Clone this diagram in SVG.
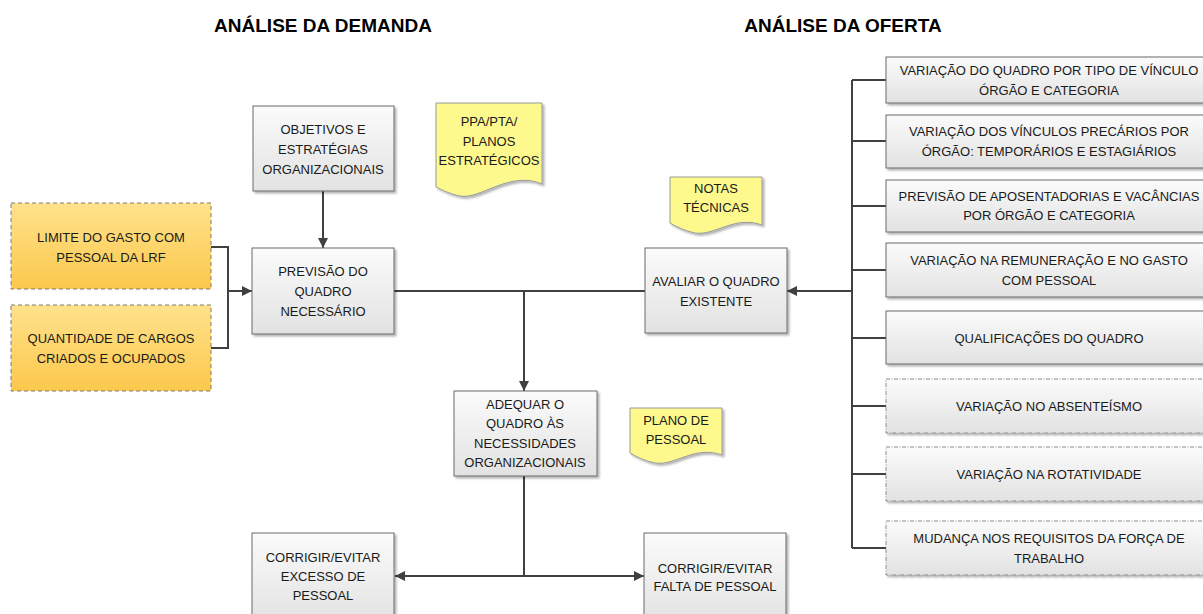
<svg xmlns="http://www.w3.org/2000/svg" width="1203" height="614" viewBox="0 0 1203 614">
<defs>
<linearGradient id="gGray" x1="0" y1="0" x2="0" y2="1"><stop offset="0" stop-color="#fbfbfb"/><stop offset="1" stop-color="#e2e2e2"/></linearGradient>
<linearGradient id="gOrange" x1="0" y1="0" x2="0" y2="1"><stop offset="0" stop-color="#ffe28c"/><stop offset="1" stop-color="#fbc84c"/></linearGradient>
<filter id="sh" x="-10%" y="-10%" width="130%" height="130%"><feDropShadow dx="2" dy="2" stdDeviation="1" flood-color="#000" flood-opacity="0.3"/></filter>
<marker id="arr" viewBox="0 0 10 10" refX="10" refY="5" markerWidth="10" markerHeight="10" markerUnits="userSpaceOnUse" orient="auto"><path d="M0,0 L10,5 L0,10 z" fill="#404040"/></marker>
</defs>
<style>
.box{fill:url(#gGray);stroke:#6b6b6b;stroke-width:1;filter:url(#sh)}
.dbox{fill:url(#gGray);stroke:#8a8a8a;stroke-width:1;stroke-dasharray:4 1.5 1 1.5;filter:url(#sh)}
.ybox{fill:url(#gOrange);stroke:#7a7a7a;stroke-width:1;stroke-dasharray:4 3}
.doc{fill:#fdf98d;stroke:#9a9a9a;stroke-width:1;filter:url(#sh)}
.t{font-family:"Liberation Sans",Arial,sans-serif;font-size:13px;fill:#1a1a1a;text-anchor:middle;dominant-baseline:central}
.h{font-family:"Liberation Sans",Arial,sans-serif;font-size:19px;font-weight:bold;fill:#000;text-anchor:middle}
.c{fill:none;stroke:#404040;stroke-width:2}
</style>
<rect width="1203" height="614" fill="#fff"/>
<text class="h" x="323" y="32">ANÁLISE DA DEMANDA</text>
<text class="h" x="843" y="32">ANÁLISE DA OFERTA</text>

<g id="connectors">
<path class="c" d="M211,247 H228 V348 H211"/>
<path class="c" d="M228,291 H252" marker-end="url(#arr)"/>
<path class="c" d="M323,191 V248" marker-end="url(#arr)"/>
<path class="c" d="M394,291 H645"/>
<path class="c" d="M524,291 V391" marker-end="url(#arr)"/>
<path class="c" d="M852,80 V548"/>
<path class="c" d="M852,80 H886 M852,141 H886 M852,206 H886 M852,270 H886 M852,338 H886 M852,406 H886 M852,474 H886 M852,548 H886"/>
<path class="c" d="M852,291 H787" marker-end="url(#arr)"/>
<path class="c" d="M524,476 V576"/>
<path class="c" d="M524,576 H395" marker-end="url(#arr)"/>
<path class="c" d="M524,576 H644" marker-end="url(#arr)"/>
</g>

<g id="n-limite"><rect class="ybox" x="11" y="203" width="200" height="86"/><text class="t" x="111" y="237">LIMITE DO GASTO COM</text><text class="t" x="111" y="257">PESSOAL DA LRF</text></g>
<g id="n-quantidade"><rect class="ybox" x="11" y="305" width="200" height="86"/><text class="t" x="111" y="338">QUANTIDADE DE CARGOS</text><text class="t" x="111" y="358">CRIADOS E OCUPADOS</text></g>

<g id="n-objetivos"><rect class="box" x="253" y="106" width="141" height="85"/><text class="t" x="323" y="129">OBJETIVOS E</text><text class="t" x="323" y="149">ESTRATÉGIAS</text><text class="t" x="323" y="169">ORGANIZACIONAIS</text></g>
<g id="n-previsao"><rect class="box" x="252" y="248" width="142" height="86"/><text class="t" x="323" y="271">PREVISÃO DO</text><text class="t" x="323" y="291">QUADRO</text><text class="t" x="323" y="311">NECESSÁRIO</text></g>

<g id="n-ppa"><path class="doc" d="M436,103 H542 V184 C510,170 480,200 460,196 C450,194 442,190 436,187 Z"/><text class="t" x="489" y="121">PPA/PTA/</text><text class="t" x="489" y="141">PLANOS</text><text class="t" x="489" y="160">ESTRATÉGICOS</text></g>
<g id="n-notas"><path class="doc" d="M670,177 H762 V225 C735,215 715,236 695,233 C685,231 677,227 670,223 Z"/><text class="t" x="716" y="188">NOTAS</text><text class="t" x="716" y="207">TÉCNICAS</text></g>
<g id="n-plano"><path class="doc" d="M630,408 H722 V455 C695,445 675,466 655,463 C645,461 637,457 630,453 Z"/><text class="t" x="676" y="420">PLANO DE</text><text class="t" x="676" y="439">PESSOAL</text></g>

<g id="n-avaliar"><rect class="box" x="645" y="248" width="142" height="85"/><text class="t" x="716" y="281">AVALIAR O QUADRO</text><text class="t" x="716" y="301">EXISTENTE</text></g>
<g id="n-adequar"><rect class="box" x="454" y="391" width="143" height="85"/><text class="t" x="525" y="404">ADEQUAR O</text><text class="t" x="525" y="423">QUADRO ÀS</text><text class="t" x="525" y="443">NECESSIDADES</text><text class="t" x="525" y="462">ORGANIZACIONAIS</text></g>
<g id="n-excesso"><rect class="box" x="252" y="533" width="142" height="90"/><text class="t" x="323" y="557">CORRIGIR/EVITAR</text><text class="t" x="323" y="576">EXCESSO DE</text><text class="t" x="323" y="595">PESSOAL</text></g>
<g id="n-falta"><rect class="box" x="644" y="533" width="142" height="90"/><text class="t" x="715" y="568">CORRIGIR/EVITAR</text><text class="t" x="715" y="586">FALTA DE PESSOAL</text></g>

<g id="n-r1"><rect class="box" x="886" y="57" width="326" height="46"/><text class="t" x="1049" y="70">VARIAÇÃO DO QUADRO POR TIPO DE VÍNCULO</text><text class="t" x="1049" y="90">ÓRGÃO E CATEGORIA</text></g>
<g id="n-r2"><rect class="box" x="886" y="115" width="326" height="53"/><text class="t" x="1049" y="131">VARIAÇÃO DOS VÍNCULOS PRECÁRIOS POR</text><text class="t" x="1049" y="151">ÓRGÃO: TEMPORÁRIOS E ESTAGIÁRIOS</text></g>
<g id="n-r3"><rect class="box" x="886" y="180" width="326" height="52"/><text class="t" x="1049" y="196">PREVISÃO DE APOSENTADORIAS E VACÂNCIAS</text><text class="t" x="1049" y="215">POR ÓRGÃO E CATEGORIA</text></g>
<g id="n-r4"><rect class="box" x="886" y="243" width="326" height="54"/><text class="t" x="1049" y="260">VARIAÇÃO NA REMUNERAÇÃO E NO GASTO</text><text class="t" x="1049" y="280">COM PESSOAL</text></g>
<g id="n-r5"><rect class="box" x="886" y="311" width="326" height="53"/><text class="t" x="1049" y="338">QUALIFICAÇÕES DO QUADRO</text></g>
<g id="n-r6"><rect class="dbox" x="886" y="379" width="326" height="54"/><text class="t" x="1049" y="406">VARIAÇÃO NO ABSENTEÍSMO</text></g>
<g id="n-r7"><rect class="dbox" x="886" y="447" width="326" height="54"/><text class="t" x="1049" y="474">VARIAÇÃO NA ROTATIVIDADE</text></g>
<g id="n-r8"><rect class="dbox" x="886" y="521" width="326" height="54"/><text class="t" x="1049" y="538">MUDANÇA NOS REQUISITOS DA FORÇA DE</text><text class="t" x="1049" y="558">TRABALHO</text></g>
</svg>
